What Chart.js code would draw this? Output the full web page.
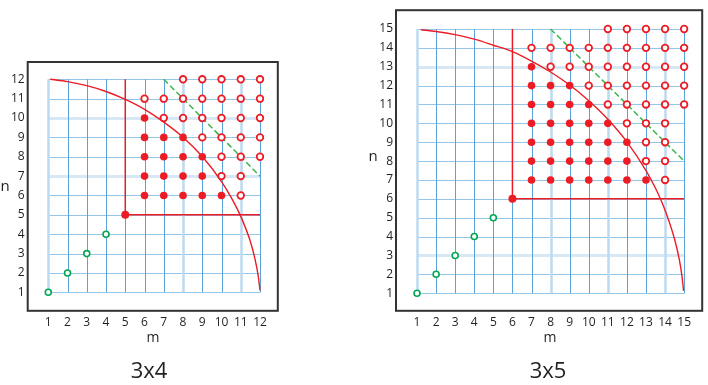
<!DOCTYPE html>
<html>
<head>
<meta charset="utf-8">
<script src="https://cdn.jsdelivr.net/npm/chart.js@4.4.1/dist/chart.umd.min.js"></script>
<style>
  body { margin: 0; background: #fff; width: 708px; height: 385px; overflow: hidden; position: relative;
         font-family: "Open Sans", sans-serif; color: #231f20; }
  canvas { position: absolute; top: 0; }
  .lbl { position: absolute; transform: translate(-50%, -50%); white-space: nowrap; line-height: 1; }
</style>
</head>
<body>
<canvas id="c34" width="290" height="330" style="left:0"></canvas>
<canvas id="c35" width="348" height="330" style="left:360px"></canvas>

<div class="lbl" style="left:5px;top:185px;font-size:15px">n</div>
<div class="lbl" style="left:153px;top:337px;font-size:14px">m</div>
<div class="lbl" style="left:149px;top:369px;font-size:22px">3x4</div>

<div class="lbl" style="left:373px;top:155px;font-size:15px">n</div>
<div class="lbl" style="left:550px;top:337px;font-size:14px">m</div>
<div class="lbl" style="left:548px;top:369px;font-size:22px">3x5</div>

<script>
// ---- 3x4 ----
var size34 = 12;
var corner34 = [5, 5];
var filled34 = [
  [6, 10],
  [6, 9], [7, 9], [8, 9],
  [6, 8], [7, 8], [8, 8], [9, 8],
  [6, 7], [7, 7], [8, 7], [9, 7],
  [6, 6], [7, 6], [8, 6], [9, 6], [10, 6]
];
var open34 = [
  [8, 12], [9, 12], [10, 12], [11, 12], [12, 12],
  [6, 11], [7, 11], [8, 11], [9, 11], [10, 11], [11, 11], [12, 11],
  [7, 10], [8, 10], [9, 10], [10, 10], [11, 10], [12, 10],
  [9, 9], [10, 9], [11, 9], [12, 9],
  [10, 8], [11, 8], [12, 8],
  [10, 7], [11, 7],
  [11, 6]
];
var green34 = [[1, 1], [2, 2], [3, 3], [4, 4]];
var diag34 = [[7, 12], [12, 7]];
var arcM34 = [1.1, 2, 3, 4, 5, 6, 7, 8, 9, 10, 10.5, 11, 11.5, 11.75, 11.9, 12];
var arcN34 = [12, 11.88, 11.67, 11.37, 10.96, 10.45, 9.79, 9.01, 8.01, 6.72, 5.9, 4.92, 3.62, 2.67, 1.9, 1.1];

// ---- 3x5 ----
var size35 = 15;
var corner35 = [6, 6];
var filled35 = [
  [7, 13],
  [7, 12], [8, 12], [9, 12],
  [7, 11], [8, 11], [9, 11], [10, 11],
  [7, 10], [8, 10], [9, 10], [10, 10], [11, 10],
  [7, 9], [8, 9], [9, 9], [10, 9], [11, 9], [12, 9],
  [7, 8], [8, 8], [9, 8], [10, 8], [11, 8], [12, 8],
  [7, 7], [8, 7], [9, 7], [10, 7], [11, 7], [12, 7], [13, 7]
];
var open35 = [
  [11, 15], [12, 15], [13, 15], [14, 15], [15, 15],
  [7, 14], [8, 14], [9, 14], [10, 14], [11, 14], [12, 14], [13, 14], [14, 14], [15, 14],
  [8, 13], [9, 13], [10, 13], [11, 13], [12, 13], [13, 13], [14, 13], [15, 13],
  [10, 12], [11, 12], [12, 12], [13, 12], [14, 12], [15, 12],
  [11, 11], [12, 11], [13, 11], [14, 11], [15, 11],
  [12, 10], [13, 10], [14, 10],
  [13, 9], [14, 9],
  [13, 8], [14, 8],
  [14, 7]
];
var green35 = [[1, 1], [2, 2], [3, 3], [4, 4], [5, 5]];
var diag35 = [[8, 15], [15, 8]];
var arcM35 = [1.2, 2, 3, 4, 5, 6, 7, 8, 9, 10, 11, 12, 13, 13.5, 14, 14.5, 14.75, 14.9, 14.97];
var arcN35 = [14.96, 14.87, 14.7, 14.46, 14.14, 13.8, 13.3, 12.72, 12.03, 11.2, 10.22, 9.02, 7.5, 6.56, 5.4, 3.86, 2.76, 1.8, 1.12];

var RED = "#ed1c24";
var GREEN = "#00a651";

function pts(pairs) {
  return pairs.map(function (p) { return { x: p[0], y: p[1] }; });
}

function arcPts(ms, ns) {
  var out = [];
  for (var i = 0; i < ms.length; i++) out.push({ x: ms[i], y: ns[i] });
  return out;
}

var squareGrid = {
  id: "squareGrid",
  beforeDatasetsDraw: function (chart, args, opts) {
    var ctx = chart.ctx;
    var xs = chart.scales.x, ys = chart.scales.y;
    var n = opts.size;
    var x0 = xs.getPixelForValue(1), x1 = xs.getPixelForValue(n);
    var y0 = ys.getPixelForValue(1), y1 = ys.getPixelForValue(n);
    ctx.save();
    // horizontal lines
    for (var i = 1; i <= n; i++) {
      var py = Math.round(ys.getPixelForValue(i)) + 0.5;
      var wide = opts.wideH.indexOf(i) >= 0;
      ctx.strokeStyle = wide ? "#d6e8f6" : "#93c6e9";
      ctx.lineWidth = wide ? 3 : 1;
      ctx.beginPath();
      ctx.moveTo(x0, py);
      ctx.lineTo(x1, py);
      ctx.stroke();
    }
    // vertical lines
    for (var j = 1; j <= n; j++) {
      var px = Math.round(xs.getPixelForValue(j)) + 0.5;
      var wideV = opts.wideV.indexOf(j) >= 0;
      ctx.strokeStyle = wideV ? "#bcdaf1" : "#5aa3da";
      ctx.lineWidth = wideV ? 2.5 : 1;
      ctx.beginPath();
      ctx.moveTo(px, y0);
      ctx.lineTo(px, y1);
      ctx.stroke();
    }
    ctx.restore();
  },
  afterDraw: function (chart) {
    var a = chart.chartArea;
    var ctx = chart.ctx;
    ctx.save();
    ctx.strokeStyle = "#333";
    ctx.lineWidth = 2;
    ctx.strokeRect(a.left, a.top, a.right - a.left, a.bottom - a.top);
    ctx.restore();
  }
};

function axis(min, max, n, fitProp, fitVal) {
  return {
    type: "linear",
    min: min,
    max: max,
    grid: { display: false, drawTicks: false },
    border: { display: false },
    afterBuildTicks: function (scale) {
      var t = [];
      for (var i = 1; i <= n; i++) t.push({ value: i });
      scale.ticks = t;
    },
    afterFit: function (scale) { scale[fitProp] = fitVal; },
    ticks: {
      autoSkip: false,
      maxRotation: 0,
      padding: fitProp === "width" ? 3 : 5,
      color: "#231f20",
      font: { family: "'Open Sans', sans-serif", size: 12 },
      callback: function (v) { return String(v); }
    }
  };
}

function makeChart(id, d) {
  var ctx = document.getElementById(id).getContext("2d");
  return new Chart(ctx, {
    type: "scatter",
    data: {
      datasets: [
        { data: [{ x: d.corner[0], y: d.corner[1] }], pointRadius: 4, backgroundColor: RED, borderColor: RED, borderWidth: 0, order: 0 },
        { data: pts(d.filled), pointRadius: 3.8, backgroundColor: RED, borderColor: RED, borderWidth: 0, order: 0 },
        { data: pts(d.open), pointRadius: 3.3, backgroundColor: "#fff", borderColor: RED, borderWidth: 1.8, order: 0 },
        { data: pts(d.green), pointRadius: 3, backgroundColor: "#fff", borderColor: GREEN, borderWidth: 1.6, order: 0 },
        { data: [{ x: d.corner[0], y: d.corner[1] }, { x: d.corner[0], y: d.size }], showLine: true, pointRadius: 0,
          borderColor: RED, borderWidth: 1.5, order: 1 },
        { data: [{ x: d.corner[0], y: d.corner[1] }, { x: d.size, y: d.corner[1] }], showLine: true, pointRadius: 0,
          borderColor: RED, borderWidth: 1.5, order: 1 },
        { data: pts(d.diag), showLine: true, pointRadius: 0, borderColor: "#39b54a", borderWidth: 1.5,
          borderDash: [6, 3], order: 1 },
        { data: arcPts(d.arcM, d.arcN), showLine: true, pointRadius: 0, borderColor: RED, borderWidth: 1.4,
          cubicInterpolationMode: "monotone", order: 1 }
      ]
    },
    options: {
      responsive: false,
      animation: false,
      events: [],
      layout: { padding: d.padding },
      plugins: {
        legend: { display: false },
        tooltip: { enabled: false },
        squareGrid: { size: d.size, wideV: d.wideV, wideH: d.wideH }
      },
      scales: {
        x: axis(d.xMin, d.xMax, d.size, "height", d.xAxisH),
        y: axis(d.yMin, d.yMax, d.size, "width", d.yAxisW)
      }
    },
    plugins: [squareGrid]
  });
}

makeChart("c34", {
  size: size34, corner: corner34, filled: filled34, open: open34, green: green34, diag: diag34,
  arcM: arcM34, arcN: arcN34,
  xMin: -0.07, xMax: 12.925, yMin: 0.045, yMax: 12.893,
  padding: { top: 62, right: 12.2, left: 0, bottom: 0 },
  xAxisH: 19.2, yAxisW: 27.7,
  wideV: [1, 8, 11], wideH: [10, 7]
});

makeChart("c35", {
  size: size35, corner: corner35, filled: filled35, open: open35, green: green35, diag: diag35,
  arcM: arcM35, arcN: arcN35,
  xMin: -0.103, xMax: 15.947, yMin: 0.066, yMax: 15.996,
  padding: { top: 2, right: 2, left: 0, bottom: 0 },
  xAxisH: 19.2, yAxisW: 36,
  wideV: [1, 8, 11, 14], wideH: [13, 3]
});
</script>
</body>
</html>
